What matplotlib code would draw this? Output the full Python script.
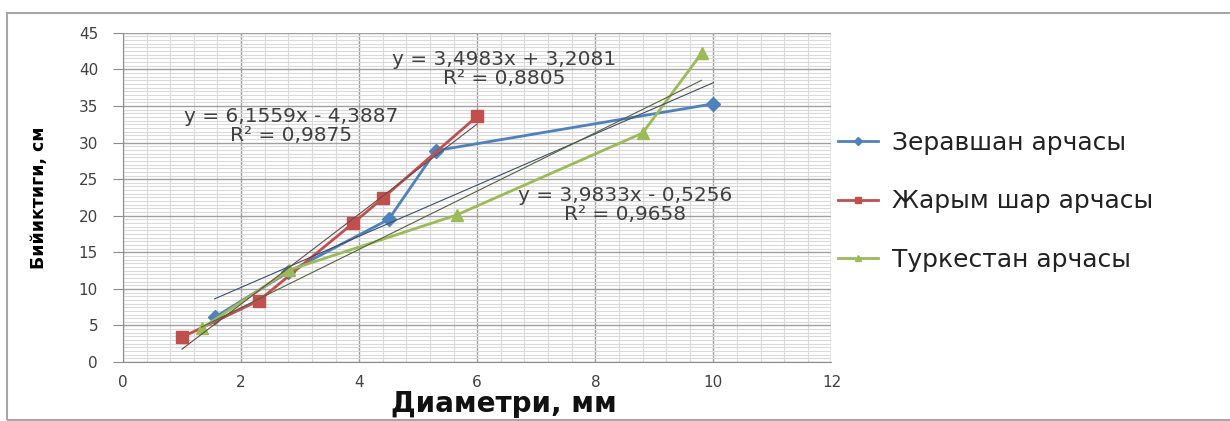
import numpy as np
import matplotlib
matplotlib.use('Agg')
import matplotlib.pyplot as plt
from matplotlib.patches import Rectangle
from matplotlib.ticker import MultipleLocator

# Data
zer_x = [1.55, 2.8, 4.5, 5.3, 10.0]
zer_y = [6.1, 12.3, 19.5, 28.9, 35.3]
jar_x = [1.0, 2.3, 3.9, 4.4, 6.0]
jar_y = [3.4, 8.4, 19.0, 22.4, 33.6]
tur_x = [1.33, 2.82, 5.65, 8.8, 9.8]
tur_y = [4.6, 12.6, 20.1, 31.3, 42.2]

series_names = ['Зеравшан арчасы', 'Жарым шар арчасы', 'Туркестан арчасы']

# trendline equations as printed on the chart
trend_zer = (3.4983, 3.2081, 0.8805)
trend_jar = (6.1559, -4.3887, 0.9875)
trend_tur = (3.9833, -0.5256, 0.9658)

blue = '#4f81bd'
red = '#c0504d'
green = '#9bbb59'

fig = plt.figure(figsize=(12.3, 4.21), dpi=100)
ax = fig.add_axes([0.1, 0.14, 0.576, 0.782])

# Grid like the Excel sheet: darker major lines, light minor lines
ax.xaxis.set_major_locator(MultipleLocator(2))
ax.xaxis.set_minor_locator(MultipleLocator(0.4))
ax.yaxis.set_major_locator(MultipleLocator(5))
ax.yaxis.set_minor_locator(MultipleLocator(0.5))
ax.grid(True, which='major', color='#a0a0a0', lw=1.0)
ax.grid(True, which='minor', color='#dadada', lw=0.8)
ax.set_axisbelow(True)

ax.plot(zer_x, zer_y, color=blue, lw=2.0, marker='D', ms=7, label=series_names[0], zorder=3)
ax.plot(jar_x, jar_y, color=red, lw=2.0, marker='s', ms=8, label=series_names[1], zorder=3)
ax.plot(tur_x, tur_y, color=green, lw=2.0, marker='^', ms=8, label=series_names[2], zorder=3)


def trend(xs, coef, color):
    xx = np.array([min(xs), max(xs)])
    ax.plot(xx, coef[0] * xx + coef[1], color=color, lw=0.8, zorder=4)


trend(zer_x, trend_zer, '#3d4f66')
trend(jar_x, trend_jar, '#6b4a4a')
trend(tur_x, trend_tur, '#55603f')


def fmt(v):
    return f'{abs(v):.4f}'.replace('.', ',')


def eq_text(coef):
    sign = '+' if coef[1] >= 0 else '-'
    return f'y = {fmt(coef[0])}x {sign} {fmt(coef[1])}\nR² = {fmt(coef[2])}'


txt_kw = dict(ha='center', va='center', fontsize=14.5, color='#404040',
              linespacing=1.0, zorder=5)
ax.text(6.45, 40.0, eq_text(trend_zer), **txt_kw)
ax.text(2.85, 32.3, eq_text(trend_jar), **txt_kw)
ax.text(8.5, 21.5, eq_text(trend_tur), **txt_kw)

ax.set_xlim(0, 12)
ax.set_ylim(0, 45)
for s in ['top', 'right']:
    ax.spines[s].set_visible(False)
for s in ['left', 'bottom']:
    ax.spines[s].set_color('#8c8c8c')
ax.tick_params(axis='y', which='major', length=7, color='#8c8c8c', pad=11,
               labelsize=11, labelcolor='#404040')
ax.tick_params(axis='x', which='major', length=0, pad=9,
               labelsize=11, labelcolor='#404040')
ax.tick_params(which='minor', length=0)

ax.set_ylabel('Бийиктиги, см', fontsize=12.5, fontweight='bold',
              family=['Liberation Sans Narrow', 'DejaVu Sans'], labelpad=22)
fig.text(0.41, 0.006, 'Диаметри, мм', ha='center', va='bottom',
         fontsize=20, fontweight='bold', color='#111111')

leg = fig.legend(loc='upper left', bbox_to_anchor=(0.681, 0.690), frameon=False,
                 fontsize=18, borderpad=0, borderaxespad=0, labelspacing=1.39,
                 handlelength=1.6, handletextpad=0.56, markerscale=0.6)
for t in leg.get_texts():
    t.set_color('#222222')

# outer chart border
fig.add_artist(Rectangle((7 / 1230, 0.002), 1.2, 0.967, transform=fig.transFigure,
                         fill=False, edgecolor='#a6a6a6', lw=1.5))

fig.savefig('out.png', dpi=100)
